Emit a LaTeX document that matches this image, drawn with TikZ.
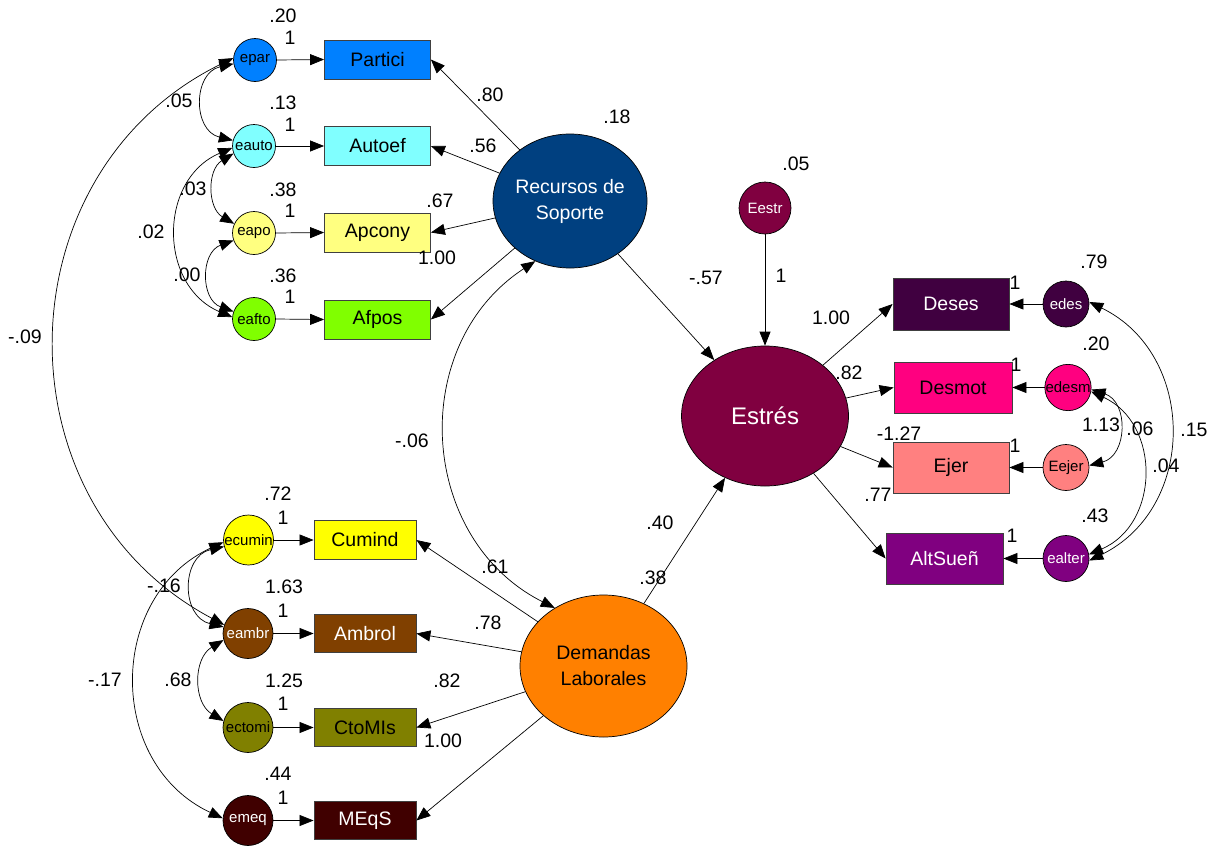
\documentclass[tikz,border=0pt]{standalone}
\usepackage{fontspec}
\setmainfont{Liberation Sans}
\usetikzlibrary{arrows.meta,shapes.geometric}
\definecolor{cpar}{HTML}{0080FF}
\definecolor{cauto}{HTML}{80FFFF}
\definecolor{capo}{HTML}{FFFF80}
\definecolor{cafto}{HTML}{80FF00}
\definecolor{crec}{HTML}{004080}
\definecolor{ccum}{HTML}{FFFF00}
\definecolor{camb}{HTML}{804000}
\definecolor{cctom}{HTML}{808000}
\definecolor{cmeq}{HTML}{400000}
\definecolor{cdem}{HTML}{FF8000}
\definecolor{cest}{HTML}{800040}
\definecolor{cdes}{HTML}{400040}
\definecolor{cdesm}{HTML}{FF0080}
\definecolor{cejer}{HTML}{FF8080}
\definecolor{calt}{HTML}{800080}
\newcommand\numfont{\fontsize{19.5}{23}\selectfont}
\newcommand\obsfont{\fontsize{19.5}{23}\selectfont}
\newcommand\errfont{\fontsize{15}{18}\selectfont}
\newcommand\latfont{\fontsize{19.5}{26}\selectfont}
\tikzset{
  lat/.style={ellipse, draw=black, line width=0.7pt, inner sep=0pt, align=center, font=\latfont},
  err/.style={circle, draw=black, line width=0.7pt, inner sep=0pt, minimum size=43pt, font=\errfont},
  errb/.style={err, minimum size=50pt},
  errr/.style={err, minimum size=46pt},
  obs/.style={rectangle, draw=black!75, line width=0.8pt, inner sep=0pt, font=\obsfont},
  obst/.style={obs, minimum width=106pt, minimum height=39pt},
  obsb/.style={obs, minimum width=102pt, minimum height=38.5pt},
  obsr/.style={obs, minimum width=116pt, minimum height=52pt},
  num/.style={inner sep=0pt, font=\numfont},
  arr/.style={-{Triangle[length=14pt,width=11pt]}, line width=0.7pt},
  cov/.style={{Triangle[length=14pt,width=11pt]}-{Triangle[length=14pt,width=11pt]}, line width=0.7pt}
}
\begin{document}
\begin{tikzpicture}[x=1pt,y=-1pt]
\useasboundingbox (0,0) rectangle (1220,849);

% latent variables
\node[lat, fill=crec, text=white, minimum width=154pt, minimum height=134pt, inner xsep=-4pt] (Recursos) at (570,201) {Recursos de\\Soporte};
\node[lat, fill=cdem, minimum width=167pt, minimum height=142pt] (Demandas) at (603.5,666) {Demandas\\Laborales};
\node[lat, fill=cest, text=white, minimum width=167pt, minimum height=140pt, font=\fontsize{24}{28}\selectfont] (Estres) at (765,416) {Estrés};

% observed, top left
\node[obst, fill=cpar] (Partici) at (377.5,59.5) {Partici};
\node[obst, fill=cauto] (Autoef) at (377.5,146) {Autoef};
\node[obst, fill=capo] (Apcony) at (377.5,232.5) {Apcony};
\node[obst, fill=cafto] (Afpos) at (377.5,319.5) {Afpos};
% observed, bottom left
\node[obsb, fill=ccum] (Cumind) at (365,540) {Cumind};
\node[obsb, fill=camb, text=white] (Ambrol) at (365,633.5) {Ambrol};
\node[obsb, fill=cctom] (CtoMIs) at (365,727.5) {CtoMIs};
\node[obsb, fill=cmeq, text=white] (MEqS) at (365,820.5) {MEqS};
% observed, right
\node[obsr, fill=cdes, text=white] (Deses) at (951,304) {Deses};
\node[obsr, fill=cdesm, minimum width=118pt, minimum height=51pt] (Desmot) at (953,387.5) {Desmot};
\node[obsr, fill=cejer, minimum height=51pt] (Ejer) at (951,467.5) {Ejer};
\node[obsr, fill=calt, text=white, minimum width=117pt, minimum height=51pt] (AltSuen) at (944.5,558.5) {AltSueñ};

% errors
\node[err, fill=cpar] (epar) at (255,60) {epar};
\node[err, fill=cauto] (eauto) at (254,146) {eauto};
\node[err, fill=capo] (eapo) at (254,233) {eapo};
\node[err, fill=cafto] (eafto) at (254,319) {eafto};
\node[errb, fill=ccum] (ecumin) at (248.5,540) {ecumin};
\node[errb, fill=camb, text=white] (eambr) at (248,633.5) {eambr};
\node[errb, fill=cctom] (ectomi) at (248,727.5) {ectomi};
\node[errb, fill=cmeq, text=white] (emeq) at (248,820.5) {emeq};
\node[errr, fill=cdes, text=white] (edes) at (1066,304) {edes};
\node[errr, fill=cdesm] (edesm) at (1068,387.5) {edesm};
\node[errr, fill=cejer] (Eejer) at (1066,467.5) {Eejer};
\node[errr, fill=calt, text=white] (ealter) at (1066,558.5) {ealter};
\node[err, fill=cest, text=white, minimum size=52pt] (Eestr) at (765,208) {Eestr};

% error -> indicator
\draw[arr] (epar.east) -- (Partici.west);
\draw[arr] (eauto.east) -- (Autoef.west);
\draw[arr] (eapo.east) -- (Apcony.west);
\draw[arr] (eafto.east) -- (Afpos.west);
\draw[arr] (ecumin.east) -- (Cumind.west);
\draw[arr] (eambr.east) -- (Ambrol.west);
\draw[arr] (ectomi.east) -- (CtoMIs.west);
\draw[arr] (emeq.east) -- (MEqS.west);
\draw[arr] (edes.west) -- (Deses.east);
\draw[arr] (edesm.west) -- (Desmot.east);
\draw[arr] (Eejer.west) -- (Ejer.east);
\draw[arr] (ealter.west) -- (AltSuen.east);
\draw[arr] (Eestr) -- (Estres);

% loadings
\draw[arr] (Recursos) -- (Partici.east);
\draw[arr] (Recursos) -- (Autoef.east);
\draw[arr] (Recursos) -- (Apcony.east);
\draw[arr] (Recursos) -- (Afpos.east);
\draw[arr] (Demandas) -- (Cumind.east);
\draw[arr] (Demandas) -- (Ambrol.east);
\draw[arr] (Demandas) -- (CtoMIs.east);
\draw[arr] (Demandas) -- (MEqS.east);
\draw[arr] (Estres) -- (Deses.west);
\draw[arr] (Estres) -- (Desmot.west);
\draw[arr] (Estres) -- (Ejer.west);
\draw[arr] (Estres) -- (AltSuen.west);
% structural paths
\draw[arr] (Recursos) -- (Estres);
\draw[arr] (Demandas) -- (Estres);

% covariances
\draw[cov] (epar.190) to[bend right=77, looseness=1.39] (eauto.165);
\draw[cov] (eauto.200) to[bend right=59, looseness=1.13] (eapo.155);
\draw[cov] (eapo.200) to[bend right=70, looseness=1.27] (eafto.160);
\draw[cov] (eauto.185) to[bend right=67, looseness=1.22] (eafto.175);
\draw[cov] (epar.175) to[bend right=63, looseness=1.17] (eambr.160);
\draw[cov] (ecumin.195) to[bend right=77, looseness=1.4] (eambr.165);
\draw[cov] (eambr.195) to[bend right=59, looseness=1.13] (ectomi.165);
\draw[cov] (ecumin.185) to[bend right=65, looseness=1.19] (emeq.175);
\draw[cov] (edesm.-5) to[bend left=74, looseness=1.33] (Eejer.5);
\draw[cov] (edesm.-10) to[bend left=66, looseness=1.21] (ealter.10);
\draw[cov] (edes.5) to[bend left=64, looseness=1.19] (ealter.-5);
\draw[cov] (Recursos.240) to[bend right=60, looseness=1.13] (Demandas.130);

% labels: variances and fixed weights
\node[num] (v1) at (283,16) {.20};
\node[num] (w1) at (290,38) {1};
\node[num] (v2) at (283,103) {.13};
\node[num] (w2) at (290,125) {1};
\node[num] (v3) at (283,190) {.38};
\node[num] (w3) at (290,211) {1};
\node[num] (v4) at (283,276) {.36};
\node[num] (w4) at (290,297) {1};
\node[num] (v5) at (278,494) {.72};
\node[num] (w5) at (283,518) {1};
\node[num] (v6) at (284,587) {1.63};
\node[num] (w6) at (283,611) {1};
\node[num] (v7) at (284,681) {1.25};
\node[num] (w7) at (283,704) {1};
\node[num] (v8) at (278,774) {.44};
\node[num] (w8) at (283,798) {1};
\node[num] (v9) at (1094,262) {.79};
\node[num] (w9) at (1015,283) {1};
\node[num] (v10) at (1096,344) {.20};
\node[num] (w10) at (1016,365) {1};
\node[num] (w11) at (1015,446) {1};
\node[num] (v12) at (1095,516) {.43};
\node[num] (w12) at (1012,536) {1};
\node[num] (vR) at (617,117) {.18};
\node[num] (vE) at (796,164) {.05};
\node[num] (wE) at (781,276) {1};
% covariance labels
\node[num] (c1) at (179,101) {.05};
\node[num] (c2) at (193,189) {.03};
\node[num] (c3) at (151,232) {.02};
\node[num] (c4) at (187,275) {.00};
\node[num] (c5) at (25,337) {-.09};
\node[num] (c6) at (164,586) {-.16};
\node[num] (c7) at (105,680) {-.17};
\node[num] (c8) at (178,680) {.68};
\node[num] (c9) at (412,441) {-.06};
\node[num] (c10) at (1101,425) {1.13};
\node[num] (c11) at (1140,429) {.06};
\node[num] (c12) at (1194,430) {.15};
\node[num] (c13) at (1166,466) {.04};
% loading labels
\node[num] (l1) at (490,95) {.80};
\node[num] (l2) at (483,146) {.56};
\node[num] (l3) at (440,201) {.67};
\node[num] (l4) at (437,258) {1.00};
\node[num] (l5) at (495,567) {.61};
\node[num] (l6) at (488,623) {.78};
\node[num] (l7) at (447,681) {.82};
\node[num] (l8) at (443,741) {1.00};
\node[num] (l9) at (660,523) {.40};
\node[num] (l10) at (653,578) {.38};
\node[num] (l11) at (706,278) {-.57};
\node[num] (l12) at (831,318) {1.00};
\node[num] (l13) at (849,373) {.82};
\node[num] (l14) at (899,434) {-1.27};
\node[num] (l15) at (878,495) {.77};
\end{tikzpicture}
\end{document}
